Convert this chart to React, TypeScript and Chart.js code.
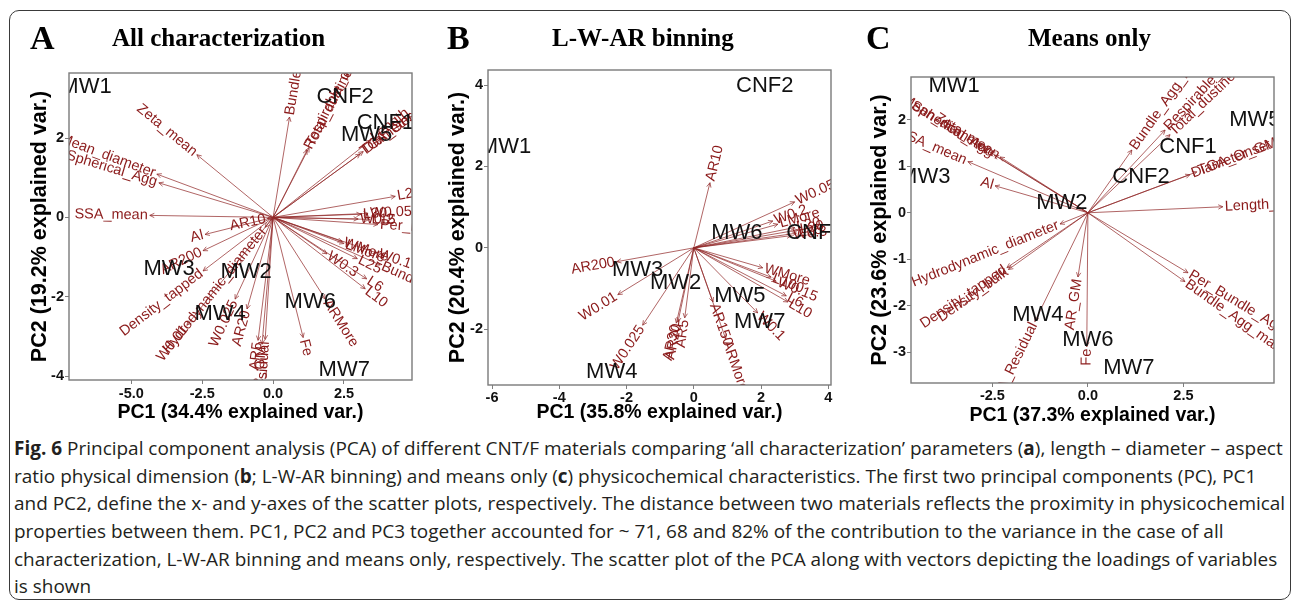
import React, { useEffect, useLayoutEffect, useRef, useState } from 'react';
import { Chart, registerables } from 'chart.js';

Chart.register(...registerables);

// ---------- Panel A: All characterization ----------
const aObsNames = ['MW1', 'CNF2', 'CNF1', 'MW5', 'MW3', 'MW2', 'MW4', 'MW6', 'MW7'];
const aObsX = [-6.6, 2.54, 3.96, 3.3, -3.67, -0.95, -1.87, 1.31, 2.51];
const aObsY = [3.3, 3.03, 2.39, 2.09, -1.3, -1.37, -2.44, -2.14, -3.84];
const aVarNames = [
  'Zeta_mean', 'Mean_diameter', 'Spherical_Agg', 'SSA_mean', 'AR10', 'Al', 'AR200', 'Density_tapped',
  'Hydrodynamic_diameter', 'W0.01', 'W0.025', 'AR20', 'AR5', 'AR_GM', 'TGA_Residual', 'Fe', 'ARMore',
  'Bundle_Agg_mean', 'Respirable_dustiness', 'Total_dustiness', 'TGA_Onset', 'Diameter_GM', 'Length_GM',
  'L20', 'L30', 'W0.05', 'W0.2', 'L15', 'Per_Bundle_Agg', 'WMore', 'LMore', 'W0.1', 'W0.3', 'L25',
  'Bundle_Agg_max', 'L6', 'L10',
];
const aVarX = [
  -2.69, -4.1, -4.03, -4.35, -0.2, -2.4, -2.47, -2.47,
  -0.28, -3.04, -1.34, -0.92, -0.53, -0.39, -0.28, 1.06, 1.84,
  0.58, 1.2, 1.27, 3.07, 3.18, 3.45,
  4.31, 3.1, 3.35, 3.0, 3.4, 3.7, 2.44, 2.5, 3.67, 1.9, 2.97,
  3.78, 3.3, 3.25,
];
const aVarY = [
  1.58, 1.09, 0.87, 0.05, -0.03, -0.43, -0.84, -1.35,
  -0.25, -2.72, -2.06, -2.31, -3.1, -3.2, -3.08, -3.03, -2.06,
  2.53, 1.7, 1.76, 1.6, 1.66, 1.95,
  0.53, 0.08, 0.1, -0.04, -0.05, -0.18, -0.61, -0.66, -0.9, -0.92, -1.04,
  -1.2, -1.55, -1.8,
];
const aXTicks = [-5, -2.5, 0, 2.5];
const aYTicks = [-4, -2, 0, 2];

// ---------- Panel B: L-W-AR binning ----------
const bObsNames = ['CNF2', 'MW1', 'MW6', 'CNF1', 'MW3', 'MW2', 'MW5', 'MW7', 'MW4'];
const bObsX = [2.11, -5.6, 1.28, 3.6, -1.67, -0.54, 1.37, 1.96, -2.44];
const bObsY = [3.98, 2.48, 0.37, 0.37, -0.54, -0.86, -1.18, -1.82, -3.05];
const bVarNames = [
  'AR10', 'W0.05', 'W0.2', 'LMore', 'L20', 'L30', 'L25', 'W0.3', 'WMore', 'L100', 'W0.15', 'L6', 'L10',
  'W0.1', 'AR150', 'ARMore', 'AR20', 'AR30', 'AR5', 'W0.025', 'W0.01', 'AR200',
];
const bVarX = [
  0.48, 3.0, 2.35, 2.5, 3.0, 3.1, 3.05, 2.9, 2.05, 2.3, 2.45, 2.75, 2.8,
  1.9, 0.57, 0.95, -0.47, -0.52, -0.27, -1.52, -2.26, -2.29,
];
const bVarY = [
  1.6, 1.13, 0.66, 0.58, 0.5, 0.44, 0.36, 0.3, -0.49, -0.72, -0.82, -1.18, -1.33,
  -1.6, -1.33, -2.24, -1.82, -1.85, -1.72, -1.9, -1.15, -0.34,
];
const bXTicks = [-6, -4, -2, 0, 2, 4];
const bYTicks = [-2, 0, 2, 4];

// ---------- Panel C: Means only ----------
const cObsNames = ['MW1', 'MW5', 'CNF1', 'CNF2', 'MW3', 'MW2', 'MW4', 'MW6', 'MW7'];
const cObsX = [-3.5, 4.37, 2.62, 1.39, -4.27, -0.68, -1.31, 0.0, 1.07];
const cObsY = [2.73, 2.0, 1.42, 0.77, 0.77, 0.22, -2.19, -2.73, -3.33];
const cVarNames = [
  'Bundle_Agg_mean', 'Respirable_dustiness', 'Total_dustiness', 'TGA_Onset', 'Diameter_GM', 'Length_GM',
  'Zeta_mean', 'Spherical_Agg', 'Mean_diameter', 'SSA_mean', 'Al', 'Hydrodynamic_diameter',
  'Density_tapped', 'Density_bulk', 'TGA_Residual', 'AR_GM', 'Fe', 'Per_Bundle_Agg', 'Bundle_Agg_max',
];
const cVarX = [
  1.15, 2.02, 2.15, 2.85, 2.67, 3.53,
  -2.3, -2.45, -2.55, -3.14, -2.43, -0.73,
  -2.12, -2.08, -1.39, -0.26, -0.03, 2.62, 2.54,
];
const cVarY = [
  1.35, 1.78, 1.68, 0.88, 0.82, 0.13,
  1.2, 1.24, 1.3, 1.1, 0.58, -0.24,
  -1.18, -1.22, -2.34, -1.38, -2.88, -1.29, -1.48,
];
const cXTicks = [-2.5, 0, 2.5];
const cYTicks = [-3, -2, -1, 0, 1, 2];

const PLOT_FONT = '"Liberation Sans", Arial, Helvetica, sans-serif';
const VAR_COLOR = '#8B1A1A';
const ARROW_COLOR = 'rgba(145, 40, 40, 0.8)';

type PanelCfg = {
  id: string;
  obsNames: string[]; obsX: number[]; obsY: number[];
  varNames: string[]; varX: number[]; varY: number[];
  xTicks: number[]; yTicks: number[]; xDec: boolean;
  xMin: number; xMax: number; yMin: number; yMax: number;
  xTitle: string; yTitle: string;
  left: number; top: number; width: number; height: number;
  padTop: number; padRight: number; yAxisW: number; xAxisH: number;
  yTitlePad: number; xTitlePad: number; xTickPad: number;
};

const panels: PanelCfg[] = [
  {
    id: 'A', obsNames: aObsNames, obsX: aObsX, obsY: aObsY,
    varNames: aVarNames, varX: aVarX, varY: aVarY,
    xTicks: aXTicks, yTicks: aYTicks, xDec: true,
    xMin: -7.2, xMax: 4.9, yMin: -4.1, yMax: 3.64,
    xTitle: 'PC1 (34.4% explained var.)', yTitle: 'PC2 (19.2% explained var.)',
    left: 0, top: 55, width: 430, height: 375,
    padTop: 18, padRight: 18, yAxisW: 69, xAxisH: 50,
    yTitlePad: 27, xTitlePad: 6, xTickPad: 1,
  },
  {
    id: 'B', obsNames: bObsNames, obsX: bObsX, obsY: bObsY,
    varNames: bVarNames, varX: bVarX, varY: bVarY,
    xTicks: bXTicks, yTicks: bYTicks, xDec: false,
    xMin: -6.12, xMax: 4.08, yMin: -3.37, yMax: 4.37,
    xTitle: 'PC1 (35.8% explained var.)', yTitle: 'PC2 (20.4% explained var.)',
    left: 430, top: 55, width: 430, height: 375,
    padTop: 15, padRight: 29, yAxisW: 58, xAxisH: 45,
    yTitlePad: 15, xTitlePad: 6, xTickPad: 0,
  },
  {
    id: 'C', obsNames: cObsNames, obsX: cObsX, obsY: cObsY,
    varNames: cVarNames, varX: cVarX, varY: cVarY,
    xTicks: cXTicks, yTicks: cYTicks, xDec: true,
    xMin: -4.63, xMax: 4.87, yMin: -3.66, yMax: 2.92,
    xTitle: 'PC1 (37.3% explained var.)', yTitle: 'PC2 (23.6% explained var.)',
    left: 860, top: 55, width: 436, height: 375,
    padTop: 22, padRight: 22, yAxisW: 51, xAxisH: 47,
    yTitlePad: 7, xTitlePad: 3, xTickPad: 0,
  },
];

function makeChart(canvas: HTMLCanvasElement, p: PanelCfg) {
  const datasets: any[] = p.varX.map((vx, i) => ({
    data: [{ x: 0, y: 0 }, { x: vx, y: p.varY[i] }],
    showLine: true,
    borderColor: ARROW_COLOR,
    borderWidth: 0.9,
    pointRadius: 0,
    pointHoverRadius: 0,
  }));
  datasets.push({
    data: p.obsX.map((x, i) => ({ x, y: p.obsY[i] })),
    showLine: false,
    pointRadius: 0,
    pointHoverRadius: 0,
  });

  const plugin = {
    id: 'biplot' + p.id,
    afterDatasetsDraw(chart: any) {
      const { ctx, chartArea: a } = chart;
      const xs = chart.scales.x;
      const ys = chart.scales.y;
      const ox = xs.getPixelForValue(0);
      const oy = ys.getPixelForValue(0);
      ctx.save();
      ctx.beginPath();
      ctx.rect(a.left, a.top, a.right - a.left, a.bottom - a.top);
      ctx.clip();
      ctx.font = `14.5px ${PLOT_FONT}`;
      ctx.textBaseline = 'middle';
      p.varNames.forEach((name, i) => {
        const px = xs.getPixelForValue(p.varX[i]);
        const py = ys.getPixelForValue(p.varY[i]);
        const ang = Math.atan2(py - oy, px - ox);
        const h = 5;
        const sp = 0.45;
        ctx.strokeStyle = ARROW_COLOR;
        ctx.lineWidth = 0.9;
        ctx.beginPath();
        ctx.moveTo(px - h * Math.cos(ang - sp), py - h * Math.sin(ang - sp));
        ctx.lineTo(px, py);
        ctx.lineTo(px - h * Math.cos(ang + sp), py - h * Math.sin(ang + sp));
        ctx.stroke();
        ctx.save();
        ctx.translate(px, py);
        ctx.fillStyle = VAR_COLOR;
        if (px >= ox) {
          ctx.rotate(ang);
          ctx.textAlign = 'left';
          ctx.fillText(name, 2, 0);
        } else {
          ctx.rotate(ang + Math.PI);
          ctx.textAlign = 'right';
          ctx.fillText(name, -2, 0);
        }
        ctx.restore();
      });
      ctx.font = `22px ${PLOT_FONT}`;
      ctx.fillStyle = '#111';
      ctx.textAlign = 'center';
      ctx.textBaseline = 'middle';
      p.obsNames.forEach((name, i) => {
        ctx.fillText(name, xs.getPixelForValue(p.obsX[i]), ys.getPixelForValue(p.obsY[i]));
      });
      ctx.restore();
      ctx.save();
      ctx.strokeStyle = '#7a7a7a';
      ctx.lineWidth = 1.4;
      ctx.strokeRect(a.left, a.top, a.right - a.left, a.bottom - a.top);
      ctx.restore();
    },
  };

  const tickFont = { family: PLOT_FONT, size: 14.5, weight: 'bold' as const };
  const xTitleFont = { family: PLOT_FONT, size: 19.5, weight: 'bold' as const };
  const yTitleFont = { family: PLOT_FONT, size: 21.5, weight: 'bold' as const };

  return new Chart(canvas, {
    type: 'scatter',
    data: { datasets },
    options: {
      animation: false,
      responsive: false,
      devicePixelRatio: 1,
      events: [],
      layout: { padding: { left: 0, top: p.padTop, right: p.padRight, bottom: 0 } },
      plugins: { legend: { display: false }, tooltip: { enabled: false } },
      scales: {
        x: {
          type: 'linear',
          min: p.xMin,
          max: p.xMax,
          afterBuildTicks: (s: any) => { s.ticks = p.xTicks.map((v) => ({ value: v })); },
          afterFit: (s: any) => { s.height = p.xAxisH; },
          grid: { display: true, drawOnChartArea: false, drawTicks: true, tickLength: 4, color: '#7f7f7f' },
          border: { display: false },
          ticks: {
            autoSkip: false, maxRotation: 0, padding: p.xTickPad, color: '#111', font: tickFont,
            callback: (v: any) => (p.xDec ? Number(v).toFixed(1) : String(v)),
          },
          title: { display: true, text: p.xTitle, color: '#000', font: xTitleFont, padding: { top: 0, bottom: p.xTitlePad } },
        },
        y: {
          type: 'linear',
          min: p.yMin,
          max: p.yMax,
          afterBuildTicks: (s: any) => { s.ticks = p.yTicks.map((v) => ({ value: v })); },
          afterFit: (s: any) => { s.width = p.yAxisW; },
          grid: { display: true, drawOnChartArea: false, drawTicks: true, tickLength: 4, color: '#7f7f7f' },
          border: { display: false },
          ticks: {
            autoSkip: false, padding: 1, color: '#111', font: tickFont,
            callback: (v: any) => String(v),
          },
          title: { display: true, text: p.yTitle, color: '#000', font: yTitleFont, padding: { top: p.yTitlePad, bottom: 0 } },
        },
      },
    } as any,
    plugins: [plugin],
  });
}

function PanelCanvas({ cfg }: { cfg: PanelCfg }) {
  const ref = useRef<HTMLCanvasElement>(null);
  useEffect(() => {
    if (!ref.current) return;
    const ch = makeChart(ref.current, cfg);
    return () => ch.destroy();
  }, [cfg]);
  return (
    <canvas
      ref={ref}
      width={cfg.width}
      height={cfg.height}
      style={{ position: 'absolute', left: cfg.left, top: cfg.top, width: cfg.width, height: cfg.height }}
    />
  );
}

const serif = '"Liberation Serif", "Times New Roman", serif';

function Title({ letter, text, lx, tx }: { letter: string; text: string; lx: number; tx: number }) {
  return (
    <>
      <div style={{ position: 'absolute', left: lx, top: 20, fontFamily: serif, fontWeight: 'bold', fontSize: 34, lineHeight: '36px', color: '#000' }}>{letter}</div>
      <div style={{ position: 'absolute', left: tx, top: 23, fontFamily: serif, fontWeight: 'bold', fontSize: 25, lineHeight: '30px', color: '#000', whiteSpace: 'nowrap' }}>{text}</div>
    </>
  );
}

function Caption() {
  const ref = useRef<HTMLDivElement>(null);
  const [k, setK] = useState(1);
  useLayoutEffect(() => {
    if (ref.current) {
      const w = ref.current.scrollWidth;
      if (w > 0) setK(1269 / w);
    }
  }, []);
  const lineStyle: React.CSSProperties = {
    whiteSpace: 'nowrap', width: 'max-content', transform: `scaleX(${k})`, transformOrigin: '0 50%',
    height: 27.7, lineHeight: '27.7px',
  };
  return (
    <div style={{ position: 'absolute', left: 14, top: 435, fontFamily: '"Open Sans", "Noto Sans", sans-serif', fontSize: 19, color: '#231f20' }}>
      <div ref={ref} style={lineStyle}>
        <b>Fig. 6</b> Principal component analysis (PCA) of different CNT/F materials comparing ‘all characterization’ parameters (<b>a</b>), length – diameter – aspect
      </div>
      <div style={lineStyle}>
        ratio physical dimension (<b>b</b>; L-W-AR binning) and means only (<b>c</b>) physicochemical characteristics. The first two principal components (PC), PC1
      </div>
      <div style={lineStyle}>
        and PC2, define the x- and y-axes of the scatter plots, respectively. The distance between two materials reflects the proximity in physicochemical
      </div>
      <div style={lineStyle}>
        properties between them. PC1, PC2 and PC3 together accounted for ~ 71, 68 and 82% of the contribution to the variance in the case of all
      </div>
      <div style={lineStyle}>
        characterization, L-W-AR binning and means only, respectively. The scatter plot of the PCA along with vectors depicting the loadings of variables
      </div>
      <div style={lineStyle}>is shown</div>
    </div>
  );
}

export default function App() {
  return (
    <div style={{ position: 'fixed', left: 0, top: 0, width: 1296, height: 605, background: '#fff', overflow: 'hidden' }}>
      {panels.map((p) => (
        <PanelCanvas key={p.id} cfg={p} />
      ))}
      <Title letter="A" text="All characterization" lx={30} tx={112} />
      <Title letter="B" text="L-W-AR binning" lx={447} tx={552} />
      <Title letter="C" text="Means only" lx={866} tx={1028} />
      <Caption />
      <div style={{ position: 'absolute', left: 9, top: 10, width: 1282, height: 590, border: '1.5px solid #3a3a3a', borderRadius: 10, boxSizing: 'border-box', pointerEvents: 'none' }} />
    </div>
  );
}
